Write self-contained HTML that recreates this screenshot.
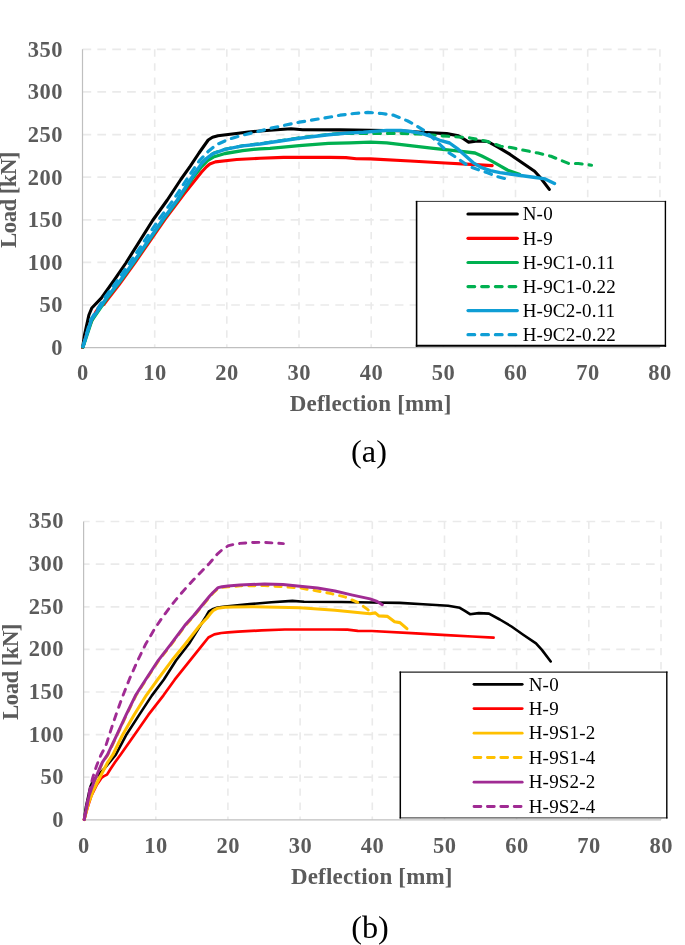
<!DOCTYPE html>
<html><head><meta charset="utf-8"><title>Load-deflection curves</title>
<style>
html,body{margin:0;padding:0;background:#fff;}
body{width:685px;height:945px;overflow:hidden;}
svg{display:block;will-change:transform;}
text{font-family:"Liberation Serif",serif;}
.tick{font-size:22.5px;font-weight:bold;fill:#5b5b5b;letter-spacing:0.5px;}
.lab{font-size:23px;font-weight:bold;fill:#5b5b5b;letter-spacing:0.18px;}
.ylab{font-size:23px;font-weight:bold;fill:#5b5b5b;letter-spacing:-0.65px;}
.leg{font-size:19px;fill:#000;letter-spacing:0.2px;}
.cap{font-size:32.3px;fill:#000;}
.gh{stroke:#eaeaea;stroke-width:1.7;stroke-dasharray:8.7 6.17;}
.gv{stroke:#eaeaea;stroke-width:1.6;stroke-dasharray:7.4 6.65;}
.axis{stroke:#bfbfbf;stroke-width:1.2;}
</style></head><body>
<svg width="685" height="945" viewBox="0 0 685 945">
<rect x="0" y="0" width="685" height="945" fill="#ffffff"/>
<g id="chart-a">
<line x1="82.5" y1="305.0" x2="659.9" y2="305.0" class="gh"/>
<line x1="82.5" y1="262.4" x2="659.9" y2="262.4" class="gh"/>
<line x1="82.5" y1="219.8" x2="659.9" y2="219.8" class="gh"/>
<line x1="82.5" y1="177.2" x2="659.9" y2="177.2" class="gh"/>
<line x1="82.5" y1="134.6" x2="659.9" y2="134.6" class="gh"/>
<line x1="82.5" y1="91.9" x2="659.9" y2="91.9" class="gh"/>
<line x1="82.5" y1="49.3" x2="659.9" y2="49.3" class="gh"/>
<line x1="154.7" y1="49.3" x2="154.7" y2="347.6" class="gv"/>
<line x1="226.8" y1="49.3" x2="226.8" y2="347.6" class="gv"/>
<line x1="299.0" y1="49.3" x2="299.0" y2="347.6" class="gv"/>
<line x1="371.2" y1="49.3" x2="371.2" y2="347.6" class="gv"/>
<line x1="443.4" y1="49.3" x2="443.4" y2="347.6" class="gv"/>
<line x1="515.5" y1="49.3" x2="515.5" y2="347.6" class="gv"/>
<line x1="587.7" y1="49.3" x2="587.7" y2="347.6" class="gv"/>
<line x1="659.9" y1="49.3" x2="659.9" y2="347.6" class="gv"/>
<line x1="82.5" y1="49.3" x2="82.5" y2="347.6" class="axis"/>
<line x1="82.5" y1="347.6" x2="659.9" y2="347.6" class="axis"/>
<polyline points="82.7,347.5 84.5,335 88.9,315 91.8,308 101.3,298.2 113.6,281 125.9,263 152.6,220.5 167.3,200 180.8,179.5 190.3,166.1 199,153 208.2,140 212.5,137.3 218,135.8 248.4,132 270,130.2 291,128.8 302.7,129.7 340,129.9 370.4,130.4 398.4,130.8 421.8,132.2 446.7,133.6 458.4,135.7 463.5,138.8 468.6,142.1 477.4,141 487.6,141.5 498.4,147.4 510.1,154.4 521.8,162.6 534.6,171.2 540.5,177.8 549.3,189.4" fill="none" stroke="#000000" stroke-width="3.10" stroke-linecap="round" stroke-linejoin="round"/>
<polyline points="82.7,347.5 86,336 90.2,324.4 96,311.5 99.5,306.3 103.8,304.6 108.7,298 119.2,284.5 134.7,263.1 164.8,219.5 183.8,194.3 201.4,172.3 206.5,166.8 209.8,164 215.4,161.9 230,160.3 236.7,159.5 260,158.3 283.5,157.4 330.2,157.4 346,157.6 356.4,158.7 370.4,158.9 410.1,161 445.1,163 470.8,164.4 492.2,165.6" fill="none" stroke="#FF0000" stroke-width="3.10" stroke-linecap="round" stroke-linejoin="round"/>
<polyline points="83,347 91.8,320.5 100.2,308.4 107.1,298.3 120.5,281 133.5,263 163.1,220 178,200 192.3,178.5 201.7,166.5 207.5,160.5 213.4,157 225,153.5 242.6,150.6 260,148.8 270,148.4 299.2,145.7 328.4,143.4 350,142.8 370.4,142.1 386.7,142.8 410.1,145.6 433.5,148.4 456.8,150.9 475,153 481.8,156 490.5,160.4 498.4,164.9 507.8,170.3 519.4,174.3" fill="none" stroke="#00B050" stroke-width="3.30" stroke-linecap="round" stroke-linejoin="round"/>
<polyline points="83,346.6 91.4,319.7 99.6,308 106.5,298 119.9,281 132.9,263 162.5,220 177.3,200 191,178.5 201.7,163.2 207.5,157.3 213.4,153.2 225.0,149.2 242.6,145.7 260.0,143.7 270.0,142.2 299.2,137.8 328.4,134.4 340.0,133.6 370.4,133.4 398.4,133.4 417.1,133.9 440.0,135.7 458.4,137.0 470.0,137.9 486.7,141.3 500.7,146.2 510.9,147.5 522.1,149.9 538.2,153.1 551.0,156.3 560.7,160.3 568.7,163.5 578.3,163.5 591.5,165.2" fill="none" stroke="#00B050" stroke-width="3.10" stroke-linecap="round" stroke-linejoin="round" stroke-dasharray="6.7 7.0"/>
<polyline points="83,346.6 91.4,319.7 99.6,308 106.5,298 119.9,281 132.9,263 162.5,220 177.3,200 191.2,178.5 201.7,163.4 207.5,157.6 213.4,153.5 225,149.4 242.6,145.9 260,144 270,142.5 299.2,138.2 328.4,134.7 350,132.9 363.4,132.2 386.7,130.4 400.7,130.4 411,131.5 421.9,133.4 432.1,137 440.9,140.7 449.6,143 458.4,149.4 465.7,156 473,162.6 481.8,167.7 490.5,170.6 500,172.6 517.1,175 533.5,177.3 545.1,178.9 554.5,183.6" fill="none" stroke="#0F9ED5" stroke-width="3.40" stroke-linecap="round" stroke-linejoin="round"/>
<polyline points="83,346.6 90.5,320 98.5,307.5 104.4,298 117.1,281 129.6,263 158.5,220 173.3,200 187.3,178.5 199.3,160.9 208.7,150.9 216.9,144.5 228.5,139.3 242.6,135.2 255.4,132.1 270,128.4 299.2,122.2 330.2,117 340,115.2 354,113.5 368,112.4 382,113.5 393.7,115.2 407.8,121 414.6,124.6 426.3,131.9 438,142.8 448.2,152.3 458.4,158.9 468.6,166.2 478.8,169.9 487.6,172.8 496.4,176.4 508.9,179.6" fill="none" stroke="#0F9ED5" stroke-width="3.20" stroke-linecap="round" stroke-linejoin="round" stroke-dasharray="6.7 7.0"/>
<text x="62.9" y="354.9" class="tick" text-anchor="end">0</text>
<text x="62.9" y="312.3" class="tick" text-anchor="end">50</text>
<text x="62.9" y="269.7" class="tick" text-anchor="end">100</text>
<text x="62.9" y="227.1" class="tick" text-anchor="end">150</text>
<text x="62.9" y="184.5" class="tick" text-anchor="end">200</text>
<text x="62.9" y="141.9" class="tick" text-anchor="end">250</text>
<text x="62.9" y="99.2" class="tick" text-anchor="end">300</text>
<text x="62.9" y="56.6" class="tick" text-anchor="end">350</text>
<text x="82.8" y="380.0" class="tick" text-anchor="middle">0</text>
<text x="154.9" y="380.0" class="tick" text-anchor="middle">10</text>
<text x="227.1" y="380.0" class="tick" text-anchor="middle">20</text>
<text x="299.3" y="380.0" class="tick" text-anchor="middle">30</text>
<text x="371.4" y="380.0" class="tick" text-anchor="middle">40</text>
<text x="443.6" y="380.0" class="tick" text-anchor="middle">50</text>
<text x="515.8" y="380.0" class="tick" text-anchor="middle">60</text>
<text x="587.9" y="380.0" class="tick" text-anchor="middle">70</text>
<text x="660.1" y="380.0" class="tick" text-anchor="middle">80</text>
<text x="370.7" y="411.2" class="lab" text-anchor="middle">Deflection [mm]</text>
<text transform="translate(16.0,200.0) rotate(-90)" class="ylab" text-anchor="middle">Load [kN]</text>
<rect x="416.6" y="201.4" width="248.8" height="144.4" fill="#fff"/>
<line x1="415.8" y1="201.4" x2="666.1" y2="201.4" stroke="#333" stroke-width="1.0"/>
<line x1="415.8" y1="345.8" x2="666.1" y2="345.8" stroke="#000" stroke-width="1.9"/>
<line x1="416.6" y1="200.9" x2="416.6" y2="346.8" stroke="#000" stroke-width="1.6"/>
<line x1="665.4" y1="200.9" x2="665.4" y2="346.8" stroke="#000" stroke-width="1.4"/>
<line x1="468.0" y1="214.0" x2="517.3" y2="214.0" stroke="#000000" stroke-width="3.20" stroke-linecap="round"/>
<text x="522.7" y="220.2" class="leg">N-0</text>
<line x1="468.0" y1="238.3" x2="517.3" y2="238.3" stroke="#FF0000" stroke-width="3.20" stroke-linecap="round"/>
<text x="522.7" y="244.5" class="leg">H-9</text>
<line x1="468.0" y1="262.5" x2="517.3" y2="262.5" stroke="#00B050" stroke-width="3.20" stroke-linecap="round"/>
<text x="522.7" y="268.7" class="leg">H-9C1-0.11</text>
<line x1="468.0" y1="286.6" x2="517.3" y2="286.6" stroke="#00B050" stroke-width="3.20" stroke-linecap="round" stroke-dasharray="6.7 7.0"/>
<text x="522.7" y="292.8" class="leg">H-9C1-0.22</text>
<line x1="468.0" y1="310.6" x2="517.3" y2="310.6" stroke="#0F9ED5" stroke-width="3.20" stroke-linecap="round"/>
<text x="522.7" y="316.8" class="leg">H-9C2-0.11</text>
<line x1="468.0" y1="334.7" x2="517.3" y2="334.7" stroke="#0F9ED5" stroke-width="3.20" stroke-linecap="round" stroke-dasharray="6.7 7.0"/>
<text x="522.7" y="340.9" class="leg">H-9C2-0.22</text>
<text x="369.0" y="462.1" class="cap" text-anchor="middle">(a)</text>
</g>
<g id="chart-b">
<line x1="83.6" y1="777.2" x2="661.0" y2="777.2" class="gh" stroke-dashoffset="2.7"/>
<line x1="83.6" y1="734.6" x2="661.0" y2="734.6" class="gh" stroke-dashoffset="2.7"/>
<line x1="83.6" y1="692.0" x2="661.0" y2="692.0" class="gh" stroke-dashoffset="2.7"/>
<line x1="83.6" y1="649.4" x2="661.0" y2="649.4" class="gh" stroke-dashoffset="2.7"/>
<line x1="83.6" y1="606.8" x2="661.0" y2="606.8" class="gh" stroke-dashoffset="2.7"/>
<line x1="83.6" y1="564.1" x2="661.0" y2="564.1" class="gh" stroke-dashoffset="2.7"/>
<line x1="83.6" y1="521.5" x2="661.0" y2="521.5" class="gh" stroke-dashoffset="2.7"/>
<line x1="155.8" y1="521.5" x2="155.8" y2="819.8" class="gv"/>
<line x1="227.9" y1="521.5" x2="227.9" y2="819.8" class="gv"/>
<line x1="300.1" y1="521.5" x2="300.1" y2="819.8" class="gv"/>
<line x1="372.3" y1="521.5" x2="372.3" y2="819.8" class="gv"/>
<line x1="444.5" y1="521.5" x2="444.5" y2="819.8" class="gv"/>
<line x1="516.6" y1="521.5" x2="516.6" y2="819.8" class="gv"/>
<line x1="588.8" y1="521.5" x2="588.8" y2="819.8" class="gv"/>
<line x1="661.0" y1="521.5" x2="661.0" y2="819.8" class="gv"/>
<line x1="83.6" y1="521.5" x2="83.6" y2="819.8" class="axis"/>
<line x1="83.6" y1="819.8" x2="661.0" y2="819.8" class="axis"/>
<polyline points="84.1,819.6 85.9,807.1 90.3,787.1 93.2,780.1 104,769 115.8,754.7 126,735.3 139.2,714.9 151.8,695.6 163.9,679.5 176,660.5 189,643.7 206.3,616 208.9,611.4 212.4,609.3 217.7,607.5 225,606.6 249.8,604.1 271.4,602.3 292.4,600.9 304.1,601.8 341.4,602.0 371.8,602.5 399.8,602.9 423.2,604.3 448.1,605.7 459.8,607.8 464.9,610.9 470.0,614.2 478.8,613.1 489.0,613.6 499.8,619.5 511.5,626.5 523.2,634.7 536.0,643.3 541.9,649.9 550.7,661.5" fill="none" stroke="#000000" stroke-width="2.60" stroke-linecap="round" stroke-linejoin="round"/>
<polyline points="84.1,819.6 87.4,808.1 91.4,795.6 97,784.5 100.1,780 101.5,777.8 103.5,776.4 107,774.6 110.5,769 115,762.3 120.5,754.7 134.2,735.3 148.5,714.7 163.5,695.3 174.7,679.7 202.7,644.7 208.4,637.5 214.3,634.4 221.3,633 228,632.4 238.1,631.6 261.4,630.4 284.9,629.5 331.6,629.5 347.4,629.7 357.8,630.8 371.8,631.0 411.5,633.1 446.5,635.1 472.2,636.5 493.6,637.7" fill="none" stroke="#FF0000" stroke-width="2.70" stroke-linecap="round" stroke-linejoin="round"/>
<polyline points="84.2,819.6 88.5,803 93.5,790 97.6,781.7 107.7,762.3 112.9,754.7 122.4,735.3 134.2,714.7 146.3,695.3 157.6,679.7 172,660.3 184.7,644.7 200,625.3 207,618 210.5,613.5 213.5,610.3 217.7,608.2 225,607.2 233,607 251.4,606.7 277.7,607.3 300,607.7 335,610.3 370,613.8 375.3,612.9 378.8,615.9 387.6,616.4 394.6,621.7 399.9,622.6 406.9,628.7" fill="none" stroke="#FFC000" stroke-width="3.10" stroke-linecap="round" stroke-linejoin="round"/>
<polyline points="84.2,819.6 85.4,815.2 89.3,795.8 94.2,782.2 102.5,762.8 107.7,755.2 116.8,735.8 126.4,715.2 135.8,695.8 145.8,680.2 158.5,660.8 170.7,645.2 185.1,625.8 193.7,616.2 209.7,596.8 213.2,593 218.3,588.2 222,587.4 228,586.9 240,585.8 264.5,585.6 282.9,586.7 300,588 317.5,591 331.5,593.7 345.6,597.2 357.8,602.4 367.5,609.4 371,612.5" fill="none" stroke="#FFC000" stroke-width="2.90" stroke-linecap="round" stroke-linejoin="round" stroke-dasharray="6.2 6.9"/>
<polyline points="84.2,819.6 85.2,814.7 89.1,795.3 94,781.7 102.3,762.3 107.5,754.7 116.6,735.3 126.2,714.7 135.6,695.3 145.6,679.7 158.3,660.3 170.5,644.7 184.9,625.3 193.5,615.7 209.5,596.3 213,592.5 218.1,587.6 222,586.7 228,586.1 240,584.9 264.5,584 282.9,584.4 300,586.3 317.5,588 335,591 352.6,595.1 370.1,598.9 377.1,601.5 382.3,604.7" fill="none" stroke="#A02B93" stroke-width="3.00" stroke-linecap="round" stroke-linejoin="round"/>
<polyline points="84.2,819.6 87,804 90,789 92.8,777.4 96.6,765.7 100.8,755.2 105.6,746.4 113.7,721.4 121.7,698.8 129.6,678.7 137.6,660.7 145.3,644.8 153.5,630.7 161.8,618.2 170,607.1 178,597.1 185.9,588.1 193.7,579.6 201.5,571.5 209.3,563.5 217,554.4 222.5,549.4 228.6,545.6 234.5,544.2 240,543.4 250,542.6 261.9,542.3 283.4,543.6" fill="none" stroke="#A02B93" stroke-width="2.90" stroke-linecap="round" stroke-linejoin="round" stroke-dasharray="6.2 6.9"/>
<text x="63.9" y="826.7" class="tick" text-anchor="end">0</text>
<text x="63.9" y="784.1" class="tick" text-anchor="end">50</text>
<text x="63.9" y="741.5" class="tick" text-anchor="end">100</text>
<text x="63.9" y="698.9" class="tick" text-anchor="end">150</text>
<text x="63.9" y="656.3" class="tick" text-anchor="end">200</text>
<text x="63.9" y="613.6" class="tick" text-anchor="end">250</text>
<text x="63.9" y="571.0" class="tick" text-anchor="end">300</text>
<text x="63.9" y="528.4" class="tick" text-anchor="end">350</text>
<text x="83.8" y="852.8" class="tick" text-anchor="middle">0</text>
<text x="156.0" y="852.8" class="tick" text-anchor="middle">10</text>
<text x="228.2" y="852.8" class="tick" text-anchor="middle">20</text>
<text x="300.4" y="852.8" class="tick" text-anchor="middle">30</text>
<text x="372.5" y="852.8" class="tick" text-anchor="middle">40</text>
<text x="444.7" y="852.8" class="tick" text-anchor="middle">50</text>
<text x="516.9" y="852.8" class="tick" text-anchor="middle">60</text>
<text x="589.0" y="852.8" class="tick" text-anchor="middle">70</text>
<text x="661.2" y="852.8" class="tick" text-anchor="middle">80</text>
<text x="371.8" y="884.2" class="lab" text-anchor="middle">Deflection [mm]</text>
<text transform="translate(17.5,672.0) rotate(-90)" class="ylab" text-anchor="middle">Load [kN]</text>
<rect x="400.3" y="672.1" width="266.5" height="145.8" fill="#fff"/>
<line x1="399.6" y1="672.1" x2="667.5" y2="672.1" stroke="#222" stroke-width="1.3"/>
<line x1="399.6" y1="817.9" x2="667.5" y2="817.9" stroke="#555" stroke-width="1.2"/>
<line x1="400.3" y1="671.5" x2="400.3" y2="818.5" stroke="#000" stroke-width="1.5"/>
<line x1="666.8" y1="671.5" x2="666.8" y2="818.5" stroke="#000" stroke-width="1.4"/>
<line x1="474.0" y1="684.3" x2="522.2" y2="684.3" stroke="#000000" stroke-width="2.80" stroke-linecap="round"/>
<text x="528.7" y="690.5" class="leg">N-0</text>
<line x1="474.0" y1="708.6" x2="522.2" y2="708.6" stroke="#FF0000" stroke-width="2.80" stroke-linecap="round"/>
<text x="528.7" y="714.8" class="leg">H-9</text>
<line x1="474.0" y1="733.2" x2="522.2" y2="733.2" stroke="#FFC000" stroke-width="2.80" stroke-linecap="round"/>
<text x="528.7" y="739.4" class="leg">H-9S1-2</text>
<line x1="474.0" y1="757.5" x2="522.2" y2="757.5" stroke="#FFC000" stroke-width="2.80" stroke-linecap="round" stroke-dasharray="6.9 6.5"/>
<text x="528.7" y="763.7" class="leg">H-9S1-4</text>
<line x1="474.0" y1="782.2" x2="522.2" y2="782.2" stroke="#A02B93" stroke-width="2.80" stroke-linecap="round"/>
<text x="528.7" y="788.4" class="leg">H-9S2-2</text>
<line x1="474.0" y1="806.5" x2="522.2" y2="806.5" stroke="#A02B93" stroke-width="2.80" stroke-linecap="round" stroke-dasharray="6.9 6.5"/>
<text x="528.7" y="812.7" class="leg">H-9S2-4</text>
<text x="370.0" y="937.9" class="cap" text-anchor="middle">(b)</text>
</g>
</svg>
</body></html>
